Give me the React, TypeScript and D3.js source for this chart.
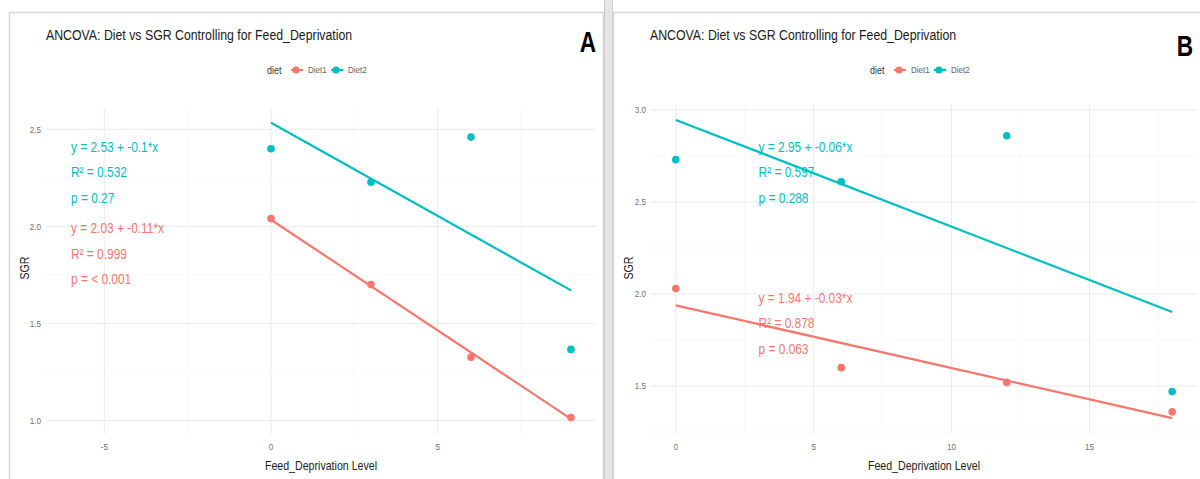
import React from "react";
import * as d3 from "d3";

// ---- data ----
const diets = ["Diet1", "Diet2"];
const dietColors = ["#F8766D", "#00BFC4"];

// Panel A
const levelsA = [0, 3, 6, 9];
const sgrA_Diet1 = [2.04, 1.7, 1.325, 1.015];
const sgrA_Diet2 = [2.4, 2.227, 2.46, 1.366];
const interceptA = [2.034, 2.534];
const slopeA = [-0.114, -0.096];
const r2A = ["0.999", "0.532"];
const pA = ["= < 0.001", "= 0.27"];
const xTicksA = [-5, 0, 5];
const yTicksA = [1.0, 1.5, 2.0, 2.5];

// Panel B
const levelsB = [0, 6, 12, 18];
const sgrB_Diet1 = [2.03, 1.6, 1.52, 1.36];
const sgrB_Diet2 = [2.73, 2.61, 2.86, 1.47];
const interceptB = [1.938, 2.946];
const slopeB = [-0.034, -0.058];
const r2B = ["0.878", "0.597"];
const pB = ["= 0.063", "= 0.288"];
const xTicksB = [0, 5, 10, 15];
const yTicksB = [1.5, 2.0, 2.5, 3.0];

const title = "ANCOVA: Diet vs SGR Controlling for Feed_Deprivation";
const xTitle = "Feed_Deprivation Level";
const yTitle = "SGR";

const FONT = "'Liberation Sans', Arial, sans-serif";
const SQUEEZE = 0.85;

// coefficients shown with two decimals, trailing zeros dropped, plain hyphen for minus
const fmtCoef = (v: number) => v.toFixed(2).replace(/0+$/, "").replace(/\.$/, "");

type TProps = {
  x: number;
  y: number;
  size: number;
  fill: string;
  anchor?: "start" | "middle" | "end";
  weight?: string;
  rotate?: number;
  squeeze?: number;
  baseline?: string;
  children: React.ReactNode;
};

// condensed text: horizontal squeeze applied around the anchor point
function NText({ x, y, size, fill, anchor = "start", weight, rotate = 0, squeeze = SQUEEZE, baseline = "central", children }: TProps) {
  return (
    <text
      transform={`translate(${x},${y}) rotate(${rotate}) scale(${squeeze},1)`}
      textAnchor={anchor}
      dominantBaseline={baseline}
      fontSize={size}
      fontWeight={weight}
      fill={fill}
      fontFamily={FONT}
    >
      {children}
    </text>
  );
}

type PanelProps = {
  tag: string;
  left: number;
  right: number;
  top: number;
  bottom: number;
  xDomain: [number, number];
  yDomain: [number, number];
  xTicks: number[];
  yTicks: number[];
  levels: number[];
  series: number[][];
  intercepts: number[];
  slopes: number[];
  r2: string[];
  p: string[];
  annX: number;
  annY: number[];
  titleX: number;
  tagX: number;
  tagY: number;
  yTitleX: number;
};

function Panel(props: PanelProps) {
  const {
    left, right, top, bottom, xDomain, yDomain, xTicks, yTicks, levels, series,
    intercepts, slopes, r2, p, annX, annY, titleX, tag, tagX, tagY, yTitleX,
  } = props;
  const x = d3.scaleLinear().domain(xDomain).range([left, right]);
  const y = d3.scaleLinear().domain(yDomain).range([bottom, top]);

  const step = xTicks[1] - xTicks[0];
  const xMinor = [xTicks[0] - step / 2, ...xTicks.map((t) => t + step / 2)].filter(
    (v) => v >= xDomain[0] && v <= xDomain[1]
  );
  const yStep = yTicks[1] - yTicks[0];
  const yMinor = [yTicks[0] - yStep / 2, ...yTicks.map((t) => t + yStep / 2)].filter(
    (v) => v >= yDomain[0] && v <= yDomain[1]
  );

  const xMin = d3.min(levels) as number;
  const xMax = d3.max(levels) as number;

  const cx = (left + right) / 2;
  const legendY = 70;

  return (
    <g>
      {/* grid */}
      {xMinor.map((t) => (
        <line key={"xm" + t} x1={x(t)} x2={x(t)} y1={top} y2={bottom} stroke="#f3f3f3" strokeWidth={0.6} />
      ))}
      {yMinor.map((t) => (
        <line key={"ym" + t} x1={left} x2={right} y1={y(t)} y2={y(t)} stroke="#f3f3f3" strokeWidth={0.6} />
      ))}
      {xTicks.map((t) => (
        <line key={"xg" + t} x1={x(t)} x2={x(t)} y1={top} y2={bottom} stroke="#ebebeb" strokeWidth={1} />
      ))}
      {yTicks.map((t) => (
        <line key={"yg" + t} x1={left} x2={right} y1={y(t)} y2={y(t)} stroke="#ebebeb" strokeWidth={1} />
      ))}

      {/* axis labels */}
      {xTicks.map((t) => (
        <NText key={"xt" + t} x={x(t)} y={447} anchor="middle" size={9.5} fill="#707070">
          {String(t).replace("−", "-")}
        </NText>
      ))}
      {yTicks.map((t) => (
        <NText key={"yt" + t} x={left - 5} y={y(t)} anchor="end" size={9.5} fill="#707070">
          {t.toFixed(1)}
        </NText>
      ))}
      <NText x={cx} y={465} anchor="middle" size={12.5} fill="#222">
        {xTitle}
      </NText>
      <NText x={yTitleX} y={268} anchor="middle" size={12.5} fill="#222" rotate={-90}>
        {yTitle}
      </NText>

      {/* title, tag, legend */}
      <NText x={titleX} y={35} size={14.5} fill="#1a1a1a">
        {title}
      </NText>
      <NText x={tagX} y={tagY} anchor="middle" size={29} weight="bold" fill="#000" baseline="auto" squeeze={0.78}>
        {tag}
      </NText>
      <g transform={`translate(${cx - 54},${legendY})`}>
        <NText x={0} y={0} size={10.5} fill="#333">
          diet
        </NText>
        {diets.map((d, i) => (
          <g key={d} transform={`translate(${30 + i * 40},0)`}>
            <line x1={-6} x2={6} y1={0} y2={0} stroke={dietColors[i]} strokeWidth={2.2} />
            <circle cx={-1} cy={0} r={3.6} fill={dietColors[i]} />
            <NText x={11} y={0} size={9.5} fill="#666">
              {d}
            </NText>
          </g>
        ))}
      </g>

      {/* fitted lines */}
      {intercepts.map((b0, i) => (
        <path
          key={"fit" + i}
          d={d3.line<number>().x((v) => x(v)).y((v) => y(b0 + slopes[i] * v))([xMin, xMax]) as string}
          fill="none"
          stroke={dietColors[i]}
          strokeWidth={2.2}
        />
      ))}

      {/* points */}
      {series.map((vals, i) =>
        vals.map((v, j) => (
          <circle key={`pt${i}-${j}`} cx={x(levels[j])} cy={y(v)} r={3.8} fill={dietColors[i]} />
        ))
      )}

      {/* regression annotations */}
      {intercepts.map((b0, i) => {
        const y0 = y(annY[i]);
        const lines = [
          `y = ${fmtCoef(b0)} + ${fmtCoef(slopes[i])}*x`,
          `R² = ${r2[i]}`,
          `p ${p[i]}`,
        ];
        return (
          <g key={"ann" + i}>
            {lines.map((s, k) => (
              <NText key={k} x={x(annX)} y={y0 + k * 25.5} size={14} fill={dietColors[i]}>
                {s}
              </NText>
            ))}
          </g>
        );
      })}
    </g>
  );
}

export default function App() {
  return (
    <div style={{ position: "absolute", left: 0, top: 0 }}>
      <svg width={1200} height={479} style={{ display: "block", background: "#fff" }}>
        {/* card frames */}
        <rect x={9.5} y={12.5} width={594} height={480} fill="#fff" stroke="#d6d6d6" strokeWidth={1.5} />
        <rect x={613.5} y={12.5} width={600} height={480} fill="#fff" stroke="#d6d6d6" strokeWidth={1.5} />
        <rect x={604} y={0} width={9} height={479} fill="#e6e6e6" />
        <line x1={604.5} x2={604.5} y1={0} y2={479} stroke="#c9c9c9" />
        <line x1={612.5} x2={612.5} y1={0} y2={479} stroke="#d2d2d2" />

        <Panel
          tag="A"
          left={46}
          right={596}
          top={108}
          bottom={434}
          xDomain={[-6.75, 9.75]}
          yDomain={[0.93, 2.61]}
          xTicks={xTicksA}
          yTicks={yTicksA}
          levels={levelsA}
          series={[sgrA_Diet1, sgrA_Diet2]}
          intercepts={interceptA}
          slopes={slopeA}
          r2={r2A}
          p={pA}
          annX={-6}
          annY={[1.99, 2.41]}
          titleX={46}
          tagX={588}
          tagY={52}
          yTitleX={24}
        />
        <Panel
          tag="B"
          left={651}
          right={1197}
          top={105}
          bottom={433}
          xDomain={[-0.9, 18.9]}
          yDomain={[1.245, 3.027]}
          xTicks={xTicksB}
          yTicks={yTicksB}
          levels={levelsB}
          series={[sgrB_Diet1, sgrB_Diet2]}
          intercepts={interceptB}
          slopes={slopeB}
          r2={r2B}
          p={pB}
          annX={3}
          annY={[1.98, 2.8]}
          titleX={650}
          tagX={1185}
          tagY={56}
          yTitleX={628}
        />
      </svg>
    </div>
  );
}
